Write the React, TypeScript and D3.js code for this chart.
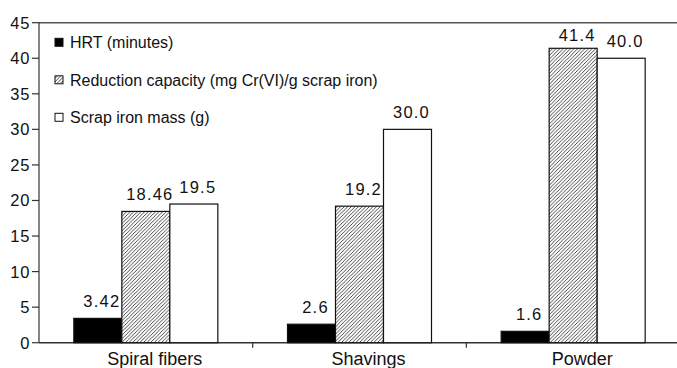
import React from "react";
import * as d3 from "d3";

const categories = ["Spiral fibers", "Shavings", "Powder"];
const seriesNames = [
  "HRT (minutes)",
  "Reduction capacity (mg Cr(VI)/g scrap iron)",
  "Scrap iron mass (g)",
];
const hrt = [3.42, 2.6, 1.6];
const reductionCapacity = [18.46, 19.2, 41.4];
const scrapMass = [19.5, 30.0, 40.0];
const hrtLabels = ["3.42", "2.6", "1.6"];
const reductionLabels = ["18.46", "19.2", "41.4"];
const massLabels = ["19.5", "30.0", "40.0"];
const yTicks = [0, 5, 10, 15, 20, 25, 30, 35, 40, 45];

const W = 677;
const H = 368;
const left = 39;
const top = 22.7;
const bottom = 342.7;
const right = 680;

const FONT = "'Liberation Sans', Arial, Helvetica, sans-serif";

export default function App() {
  const y = d3.scaleLinear().domain([0, 45]).range([bottom, top]);
  const x = d3.scaleBand<string>().domain(categories).range([left, right]).padding(0);
  const series = [
    { key: "hrt", values: hrt, labels: hrtLabels, fill: "#000" },
    { key: "red", values: reductionCapacity, labels: reductionLabels, fill: "url(#hatch)" },
    { key: "mass", values: scrapMass, labels: massLabels, fill: "#fff" },
  ];
  const inner = d3
    .scaleBand<string>()
    .domain(series.map((s) => s.key))
    .range([-72, 72])
    .padding(0);

  const boundaries = categories.slice(1).map((c) => x(c) as number);

  return (
    <svg
      width={W}
      height={H}
      style={{ position: "absolute", left: 0, top: 0, background: "#fff" }}
      fontFamily={FONT}
    >
      <defs>
        <pattern id="hatch" patternUnits="userSpaceOnUse" width="3.6" height="3.6">
          <rect width="3.6" height="3.6" fill="#fff" />
          <path d="M-0.9,0.9 L0.9,-0.9 M0,3.6 L3.6,0 M2.7,4.5 L4.5,2.7" stroke="#333" strokeWidth="0.9" />
        </pattern>
      </defs>

      {/* frame: top line and axes */}
      <line x1={left} x2={W} y1={top} y2={top} stroke="#555" strokeWidth={1.4} />
      <line x1={left} x2={W} y1={bottom} y2={bottom} stroke="#333" strokeWidth={1.4} />
      <line x1={left} x2={left} y1={top} y2={bottom} stroke="#333" strokeWidth={1.2} />

      {/* y ticks */}
      {yTicks.map((t) => (
        <g key={t}>
          <line x1={left - 7} x2={left} y1={y(t)} y2={y(t)} stroke="#333" strokeWidth={1.2} />
          <text
            x={30.5}
            y={y(t)}
            dy="0.36em"
            textAnchor="end"
            fontSize={16.5}
            letterSpacing={1}
            fill="#111"
          >
            {t}
          </text>
        </g>
      ))}

      {/* x ticks between categories */}
      {boundaries.map((b) => (
        <line key={b} x1={b} x2={b} y1={bottom} y2={bottom + 5} stroke="#333" strokeWidth={1.2} />
      ))}

      {/* bars */}
      {categories.map((c, i) => {
        const cx = (x(c) as number) + x.bandwidth() / 2;
        return (
          <g key={c}>
            {series.map((s) => {
              const bx = cx + (inner(s.key) as number);
              const v = s.values[i];
              return (
                <rect
                  key={s.key}
                  x={bx}
                  y={y(v)}
                  width={inner.bandwidth()}
                  height={y(0) - y(v)}
                  fill={s.fill}
                  stroke="#111"
                  strokeWidth={1.2}
                />
              );
            })}
            {series.map((s) => {
              const bx = cx + (inner(s.key) as number) + inner.bandwidth() / 2;
              const v = s.values[i];
              const ly = Math.max(y(v) - 11, top + 18);
              return (
                <text
                  key={s.key + "-l"}
                  x={bx + 4}
                  y={ly}
                  textAnchor="middle"
                  fontSize={16.5}
                  letterSpacing={1.2}
                  fill="#111"
                >
                  {s.labels[i]}
                </text>
              );
            })}
            <text x={cx + 9} y={364.5} textAnchor="middle" fontSize={18} fill="#111">
              {c}
            </text>
          </g>
        );
      })}

      {/* legend */}
      {seriesNames.map((name, i) => {
        const ly = 48.3 + i * 37.5;
        return (
          <g key={name}>
            <rect
              x={55}
              y={ly - 10}
              width={8}
              height={8}
              fill={series[i].fill}
              stroke="#111"
              strokeWidth={1}
            />
            <text x={70} y={ly} fontSize={16} fill="#111">
              {name}
            </text>
          </g>
        );
      })}
    </svg>
  );
}
